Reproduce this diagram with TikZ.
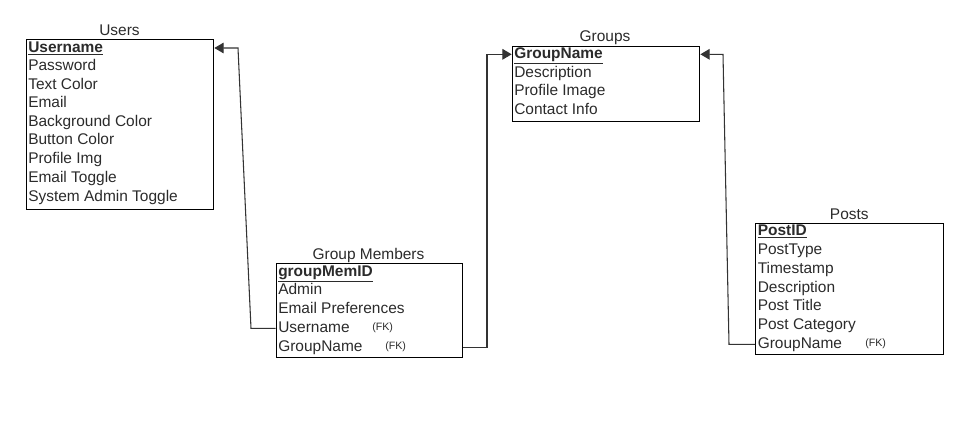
\documentclass[tikz,border=0pt]{standalone}
\usepackage{fontspec}
\setmainfont{Liberation Sans}
\usetikzlibrary{arrows.meta,calc}
\definecolor{txt}{HTML}{2B2B2B}
\definecolor{ln}{HTML}{333333}
\begin{document}
\begin{tikzpicture}[x=0.75pt,y=-0.75pt,
  tbox/.style={draw=black,line width=0.8pt,inner sep=0pt,anchor=north west},
  ttl/.style={text=txt,font=\fontsize{11.6}{13}\selectfont,inner sep=0pt,text height=8.4pt,text depth=2.4pt},
  fld/.style={text=txt,font=\fontsize{11.6}{13}\selectfont,inner sep=0pt,anchor=west,text height=8.4pt,text depth=2.4pt},
  fk/.style={text=txt,font=\fontsize{8}{9}\selectfont,inner sep=0pt,anchor=west,text height=5.8pt,text depth=1.7pt},
  conn/.style={draw=ln,line width=0.8pt},
  tip/.style={-{Triangle[length=7pt,width=8pt]}}]
\useasboundingbox (0,0) rectangle (968,422);

% Users
\node[tbox,minimum width=187.6*0.75pt,minimum height=169.7*0.75pt] (users) at (25.7,39.3) {};
\node[ttl] (usersT) at (119.5,31) {Users};
\node[fld] (uUser) at (28,48) {\underline{\textbf{Username}}};
\node[fld] (uPass) at (28,66.7) {Password};
\node[fld] (uText) at (28,85.2) {Text Color};
\node[fld] (uMail) at (28,103.5) {Email};
\node[fld] (uBg) at (28,122) {Background Color};
\node[fld] (uBtn) at (28,140.7) {Button Color};
\node[fld] (uImg) at (28,159.3) {Profile Img};
\node[fld] (uTog) at (28,178.3) {Email Toggle};
\node[fld] (uSys) at (28,197.3) {System Admin Toggle};

% Group Members
\node[tbox,minimum width=186.6*0.75pt,minimum height=94*0.75pt] (gm) at (275.7,263.3) {};
\node[ttl] (gmT) at (368.5,255) {Group Members};
\node[fld] (gId) at (278,272.3) {\underline{\textbf{groupMemID}}};
\node[fld] (gAdm) at (278,290.7) {Admin};
\node[fld] (gPref) at (278,309.3) {Email Preferences};
\node[fld] (gUser) at (278,328.3) {Username};
\node[fk] (gUserFK) at (372,327.5) {(FK)};
\node[fld] (gGrp) at (278,347.3) {GroupName};
\node[fk] (gGrpFK) at (385,346.5) {(FK)};

% Groups
\node[tbox,minimum width=187.6*0.75pt,minimum height=75*0.75pt] (groups) at (511.7,46) {};
\node[ttl] (groupsT) at (605,37.7) {Groups};
\node[fld] (grName) at (514,54.3) {\underline{\textbf{GroupName}}};
\node[fld] (grDesc) at (514,73.3) {Description};
\node[fld] (grImg) at (514,91.7) {Profile Image};
\node[fld] (grInfo) at (514,110.3) {Contact Info};

% Posts
\node[tbox,minimum width=187.7*0.75pt,minimum height=130.7*0.75pt] (posts) at (755,223.3) {};
\node[ttl] (postsT) at (849.3,215) {Posts};
\node[fld] (pId) at (757.5,231.7) {\underline{\textbf{PostID}}};
\node[fld] (pType) at (757.5,250.3) {PostType};
\node[fld] (pTime) at (757.5,269.3) {Timestamp};
\node[fld] (pDesc) at (757.5,288) {Description};
\node[fld] (pTitle) at (757.5,306.7) {Post Title};
\node[fld] (pCat) at (757.5,325.3) {Post Category};
\node[fld] (pGrp) at (757.5,344.3) {GroupName};
\node[fk] (pGrpFK) at (865,343.5) {(FK)};

% bend points
\coordinate (b1) at (251,328.3);
\coordinate (b2) at (238,48);
\coordinate (b3) at (487,347.3);
\coordinate (b4) at (487,54.3);
\coordinate (b5) at (729,344.3);
\coordinate (b6) at (723,54.3);

% connectors
\draw[conn,tip] (gUser.west -| gm.west) -- (b1) -- (b2) -- (uUser.east -| users.east);
\draw[conn,tip] (gGrp.east -| gm.east) -- (b3) -- (b4) -- (grName.west -| groups.west);
\draw[conn,tip] (pGrp.west -| posts.west) -- (b5) -- (b6) -- (grName.east -| groups.east);
\end{tikzpicture}
\end{document}
